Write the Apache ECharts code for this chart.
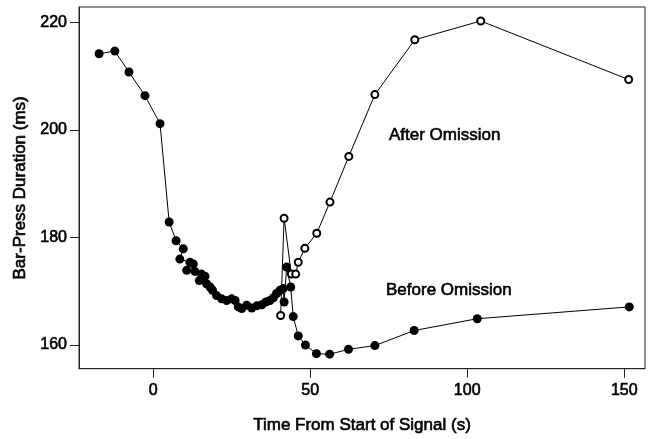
<!DOCTYPE html>
<html>
<head>
<meta charset="utf-8">
<script src="https://cdn.jsdelivr.net/npm/echarts@6/dist/echarts.min.js"></script>
<style>html,body{margin:0;padding:0;background:#fff;}#c{width:654px;height:439px;}</style>
</head>
<body>
<div id="c"></div>
<script>
// Before Omission (filled circles): [time s, duration ms]
const beforeOmission = [
  [-17.2,214.2],[-12.2,214.7],[-7.7,210.8],[-2.6,206.4],[2.2,201.2],[5.1,182.9],
  [7.3,179.4],[9.6,177.9],[8.5,176.0],[11.7,175.4],[12.8,175.1],[10.7,173.9],
  [13.3,173.7],[15.4,173.2],[16.5,172.8],[14.7,172.0],[17.0,171.4],[18.1,170.8],
  [18.9,170.2],[20.2,169.2],[21.8,168.6],[23.4,168.3],[25.0,168.6],[26.1,168.3],
  [27.1,167.1],[28.2,166.8],[29.8,167.4],[31.4,166.9],[33.0,167.3],[34.6,167.5],
  [35.9,168.0],[37.2,168.3],[38.3,168.8],[39.3,169.6],[40.4,170.2],[41.4,170.5],
  [41.7,168.0],[42.5,174.5],[43.8,170.8],[44.6,165.3],[46.2,161.7],[48.5,160.0],
  [52.0,158.4],[56.2,158.3],[62.2,159.2],[70.6,159.9],[83.1,162.7],[103.2,164.9],
  [151.6,167.1]
];
// After Omission (open circles)
const afterOmission = [
  [40.6,165.5],[41.7,183.6],[44.0,173.2],[45.4,173.2],[46.2,175.4],[48.3,178.0],
  [52.1,180.8],[56.3,186.6],[62.3,195.1],[70.6,206.6],[83.3,216.8],[104.3,220.3],
  [151.4,209.4]
];
const xTicks = [0, 50, 100, 150];
const yTicks = [160, 180, 200, 220];
const seriesNames = ['Before Omission', 'After Omission'];

const font = '"Liberation Sans", Arial, sans-serif';
const tb = 0.6;
const chart = echarts.init(document.getElementById('c'), null, {renderer: 'canvas'});
chart.setOption({
  animation: false,
  backgroundColor: '#fff',
  grid: {left: 79, right: 9, top: 7, bottom: 69, show: true, borderColor: '#222', borderWidth: 1, backgroundColor: 'transparent'},
  xAxis: {
    type: 'value', min: -23.6, max: 156.6,
    name: 'Time From Start of Signal (s)', nameLocation: 'middle', nameGap: 48,
    nameTextStyle: {fontFamily: font, fontSize: 17, color: '#000', textBorderColor: '#000', textBorderWidth: tb},
    axisLine: {show: true, onZero: false, lineStyle: {color: '#222', width: 1}},
    axisTick: {show: true, inside: false, length: 9, lineStyle: {color: '#222'}, customValues: xTicks},
    axisLabel: {fontFamily: font, fontSize: 16, color: '#000', margin: 14, customValues: xTicks, textBorderColor: '#000', textBorderWidth: tb},
    splitLine: {show: false}
  },
  yAxis: {
    type: 'value', min: 155.6, max: 222.9,
    name: 'Bar-Press Duration (ms)', nameLocation: 'middle', nameGap: 50, nameRotate: 90,
    nameTextStyle: {fontFamily: font, fontSize: 17, color: '#000', textBorderColor: '#000', textBorderWidth: tb},
    axisLine: {show: true, onZero: false, lineStyle: {color: '#222', width: 1}},
    axisTick: {show: true, inside: false, length: 9, lineStyle: {color: '#222'}, customValues: yTicks},
    axisLabel: {fontFamily: font, fontSize: 16, color: '#000', margin: 12, customValues: yTicks, textBorderColor: '#000', textBorderWidth: tb},
    splitLine: {show: false}
  },
  series: [
    {
      name: seriesNames[0], type: 'line', data: beforeOmission,
      symbol: 'circle', symbolSize: 9,
      lineStyle: {color: '#000', width: 1},
      itemStyle: {color: '#000'}
    },
    {
      name: seriesNames[1], type: 'line', data: afterOmission,
      symbol: 'emptyCircle', symbolSize: 7,
      lineStyle: {color: '#000', width: 1},
      itemStyle: {color: '#000', borderWidth: 1.2, borderColor: '#000'}
    }
  ],
  graphic: [
    {type: 'text', x: 389, y: 135, style: {text: seriesNames[1], font: '17px ' + font, fill: '#000', stroke: '#000', lineWidth: tb, verticalAlign: 'middle'}},
    {type: 'text', x: 386, y: 290, style: {text: seriesNames[0], font: '17px ' + font, fill: '#000', stroke: '#000', lineWidth: tb, verticalAlign: 'middle'}}
  ]
});
</script>
</body>
</html>
